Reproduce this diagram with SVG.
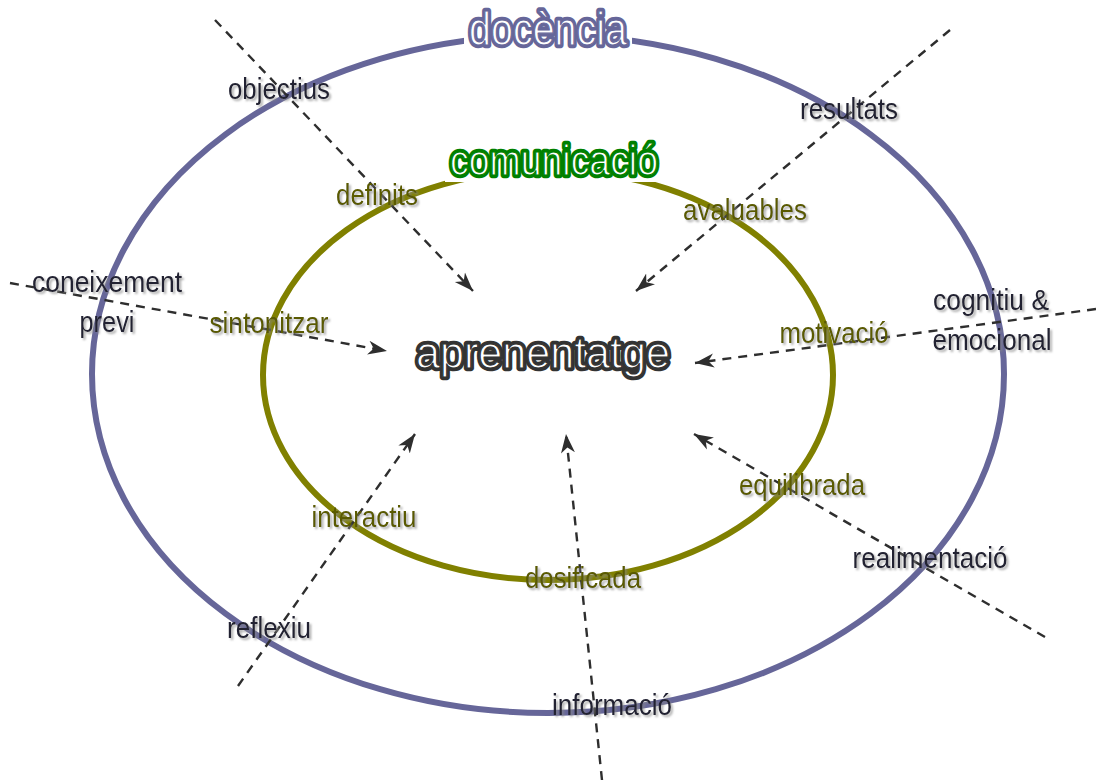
<svg xmlns="http://www.w3.org/2000/svg" width="1096" height="780" viewBox="0 0 1096 780">
  <style>
    .ring-outer { fill: none; stroke: #666699; stroke-width: 6; }
    .ring-inner { fill: none; stroke: #808000; stroke-width: 6; }
    .link { fill: none; stroke: #2e2e2e; stroke-width: 2.4; stroke-dasharray: 9 7; marker-end: url(#tip); }
    .lbl { font-family: "Liberation Sans", Arial, sans-serif; font-size: 29px; text-anchor: middle; filter: url(#shade); }
    .outer { fill: #222233; }
    .inner { fill: #5a5a00; }
    .halo { font-family: "Liberation Sans", Arial, sans-serif; text-anchor: middle; fill: none; stroke-width: 6.5; stroke-linejoin: round; }
    .face { font-family: "Liberation Sans", Arial, sans-serif; text-anchor: middle; fill: #ffffff; stroke-width: 1.2; stroke-linejoin: round; }
  </style>
  <defs>
    <marker id="tip" markerUnits="userSpaceOnUse" markerWidth="24" markerHeight="16" refX="19" refY="8" orient="auto">
      <path d="M0,1 L19,8 L0,15 L5.5,8 z" fill="#2e2e2e"/>
    </marker>
    <filter id="shade" x="-10%" y="-20%" width="130%" height="150%">
      <feDropShadow dx="2" dy="2" stdDeviation="0.8" flood-color="#888888" flood-opacity="0.7"/>
    </filter>
  </defs>

  <rect width="1096" height="780" fill="#ffffff"/>

  <!-- rings -->
  <g id="ring-docencia">
    <ellipse class="ring-outer" cx="548" cy="374" rx="456" ry="339"/>
  </g>
  <g id="ring-comunicacio">
    <ellipse class="ring-inner" cx="548" cy="375" rx="285" ry="205"/>
  </g>

  <!-- dashed connectors pointing to the centre -->
  <g id="connectors">
    <line class="link" x1="215" y1="20" x2="473" y2="291"/>
    <line class="link" x1="950" y1="30" x2="636" y2="291"/>
    <line class="link" x1="10" y1="283" x2="387" y2="351"/>
    <line class="link" x1="1096" y1="309" x2="695" y2="363"/>
    <line class="link" x1="1045" y1="637" x2="694" y2="434"/>
    <line class="link" x1="602" y1="780" x2="566" y2="434"/>
    <line class="link" x1="238" y1="686" x2="415" y2="434"/>
  </g>

  <!-- ring titles: coloured halo under a white face -->
  <g id="title-docencia">
    <rect x="464" y="8" width="168" height="44" fill="#ffffff"/>
    <text class="halo" x="548" y="45" font-size="46" stroke="#666699" textLength="158" lengthAdjust="spacingAndGlyphs">docència</text>
    <text class="face" x="548" y="45" font-size="46" stroke="#666699" textLength="158" lengthAdjust="spacingAndGlyphs">docència</text>
  </g>
  <g id="title-comunicacio">
    <rect x="445" y="140" width="220" height="42" fill="#ffffff"/>
    <text class="halo" x="554" y="175" font-size="42" stroke="#008000" textLength="208" lengthAdjust="spacingAndGlyphs">comunicació</text>
    <text class="face" x="554" y="175" font-size="42" stroke="#008000" textLength="208" lengthAdjust="spacingAndGlyphs">comunicació</text>
  </g>
  <g id="centre">
    <text class="halo" x="543" y="368" font-size="44" stroke="#333333" stroke-width="5.5" textLength="254" lengthAdjust="spacingAndGlyphs">aprenentatge</text>
    <text class="face" x="543" y="368" font-size="44" stroke="#333333" stroke-width="1" textLength="254" lengthAdjust="spacingAndGlyphs">aprenentatge</text>
  </g>

  <!-- labels -->
  <g id="objectius"><text class="lbl outer" x="279" y="99" textLength="102" lengthAdjust="spacingAndGlyphs">objectius</text></g>
  <g id="definits"><text class="lbl inner" x="377" y="205" textLength="82" lengthAdjust="spacingAndGlyphs">definits</text></g>
  <g id="resultats"><text class="lbl outer" x="849" y="119" textLength="98" lengthAdjust="spacingAndGlyphs">resultats</text></g>
  <g id="avaluables"><text class="lbl inner" x="745" y="220" textLength="124" lengthAdjust="spacingAndGlyphs">avaluables</text></g>
  <g id="coneixement">
    <text class="lbl outer" x="107" y="292" textLength="150" lengthAdjust="spacingAndGlyphs">coneixement</text>
    <text class="lbl outer" x="107" y="332" textLength="55" lengthAdjust="spacingAndGlyphs">previ</text>
  </g>
  <g id="sintonitzar"><text class="lbl inner" x="269" y="333" textLength="119" lengthAdjust="spacingAndGlyphs">sintonitzar</text></g>
  <g id="cognitiu">
    <text class="lbl outer" x="991" y="310" textLength="116" lengthAdjust="spacingAndGlyphs">cognitiu &amp;</text>
    <text class="lbl outer" x="992" y="350" textLength="119" lengthAdjust="spacingAndGlyphs">emocional</text>
  </g>
  <g id="motivacio"><text class="lbl inner" x="834" y="343" textLength="109" lengthAdjust="spacingAndGlyphs">motivació</text></g>
  <g id="equilibrada"><text class="lbl inner" x="802" y="495" textLength="126" lengthAdjust="spacingAndGlyphs">equilibrada</text></g>
  <g id="realimentacio"><text class="lbl outer" x="930" y="568" textLength="155" lengthAdjust="spacingAndGlyphs">realimentació</text></g>
  <g id="interactiu"><text class="lbl inner" x="364" y="527" textLength="105" lengthAdjust="spacingAndGlyphs">interactiu</text></g>
  <g id="dosificada"><text class="lbl inner" x="583" y="588" textLength="116" lengthAdjust="spacingAndGlyphs">dosificada</text></g>
  <g id="reflexiu"><text class="lbl outer" x="269" y="638" textLength="84" lengthAdjust="spacingAndGlyphs">reflexiu</text></g>
  <g id="informacio"><text class="lbl outer" x="612" y="715" textLength="120" lengthAdjust="spacingAndGlyphs">informació</text></g>
</svg>
